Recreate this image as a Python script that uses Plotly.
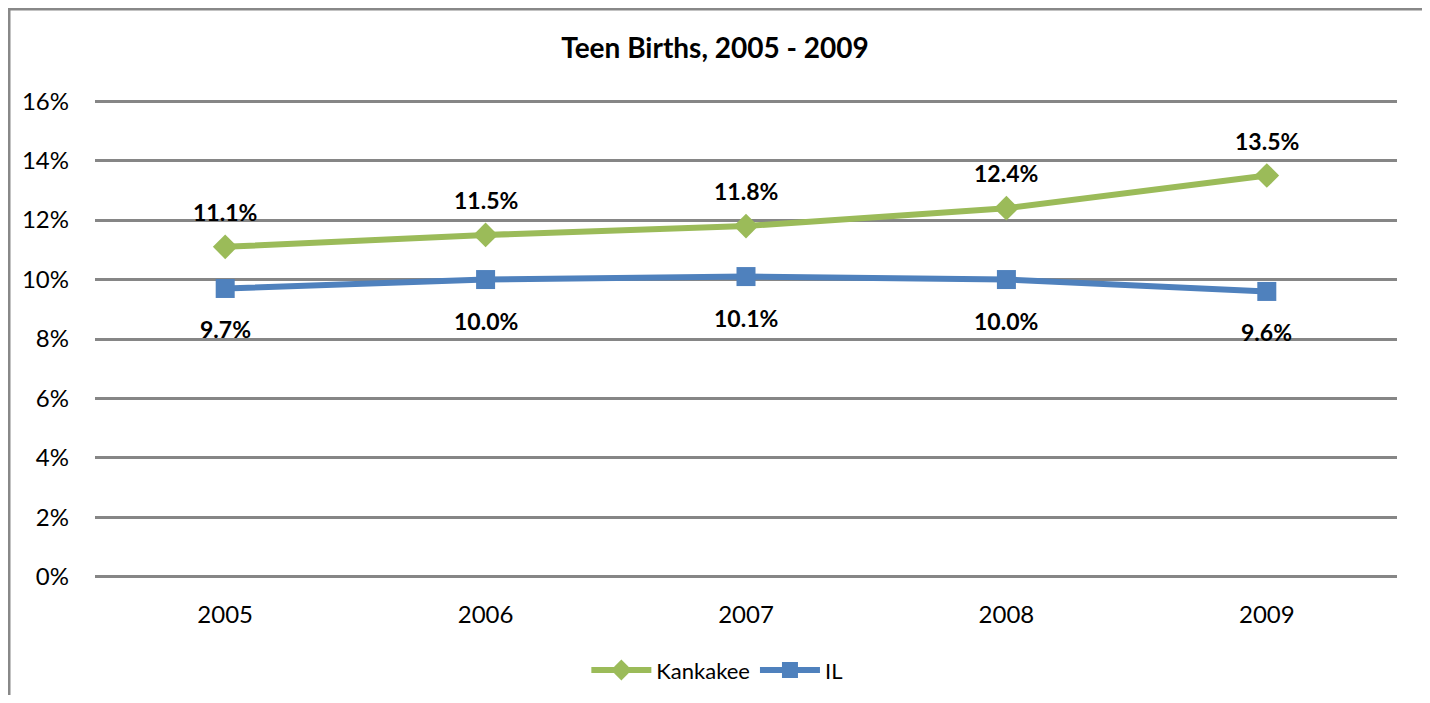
import plotly.graph_objects as go

years = ["2005", "2006", "2007", "2008", "2009"]
kankakee = [0.111, 0.115, 0.118, 0.124, 0.135]
il = [0.097, 0.100, 0.101, 0.100, 0.096]
tick_vals = [0, 0.02, 0.04, 0.06, 0.08, 0.10, 0.12, 0.14, 0.16]

FONT = "Lato, 'Open Sans', sans-serif"

# page body has an 8px margin; figure sized so the page fits the 1430x703 window
W, H = 1414, 687
L, T, PW, PH = 87, 92, 1302, 478
R, B = W - L - PW, H - T - PH

fig = go.Figure()
fig.add_trace(go.Scatter(x=years, y=kankakee, name="Kankakee", mode="lines+markers",
                         line=dict(color="#9BBB59", width=6),
                         marker=dict(symbol="diamond", size=19, color="#9BBB59")))
fig.add_trace(go.Scatter(x=years, y=il, name="IL", mode="lines+markers",
                         line=dict(color="#4F81BD", width=6),
                         marker=dict(symbol="square", size=19, color="#4F81BD")))

for i, y in enumerate(kankakee):
    fig.add_annotation(x=i, y=y, text=f"<b>{y*100:.1f}%</b>", showarrow=False, yshift=35,
                       font=dict(family=FONT, size=23, color="black"))
for i, y in enumerate(il):
    fig.add_annotation(x=i, y=y, text=f"<b>{y*100:.1f}%</b>", showarrow=False, yshift=-41,
                       font=dict(family=FONT, size=23, color="black"))

fig.update_layout(
    width=W, height=H,
    paper_bgcolor="white", plot_bgcolor="white",
    margin=dict(l=L, r=R, t=T, b=B, pad=0, autoexpand=False),
    title=dict(text="<b>Teen Births, 2005 - 2009</b>", x=0.5, xanchor="center",
               y=1 - 40/H, yanchor="middle",
               font=dict(family=FONT, size=28, color="black")),
    font=dict(family=FONT, size=23, color="black"),
    xaxis=dict(type="category", range=[-0.5, 4.5], showgrid=False, showline=False,
               ticks="", tickfont=dict(size=24), ticklabelstandoff=20),
    yaxis=dict(range=[-0.0004, 0.1604], tickvals=tick_vals, tickformat=".0%",
               showgrid=True, gridcolor="#868686", gridwidth=3, zeroline=False,
               showline=False, ticks="", tickfont=dict(size=24), ticklabelstandoff=25),
    legend=dict(orientation="h", x=0.478, xanchor="center", y=-0.149, yanchor="top",
                font=dict(size=22), itemwidth=60),
    showlegend=True,
)
fig.add_shape(type="rect", xref="paper", yref="paper",
              x0=-(L - 1)/PW, x1=1 + (R + 20)/PW, y0=-(B + 30)/PH, y1=1 + (T - 1)/PH,
              line=dict(color="#888888", width=3))

fig.write_html("out.html")
